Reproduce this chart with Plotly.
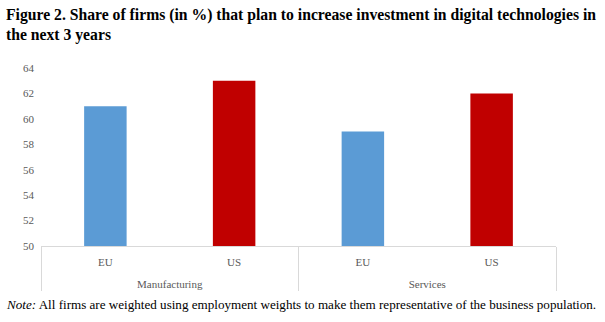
import plotly.graph_objects as go

# Survey shares by sector and region
sectors = ["Manufacturing", "Manufacturing", "Services", "Services"]
regions = ["EU", "US", "EU", "US"]
shares = [61, 63, 59, 62]
bar_colors = ["#5b9bd5", "#c00000", "#5b9bd5", "#c00000"]
y_ticks = [50, 52, 54, 56, 58, 60, 62, 64]

title_text = ("<b>Figure 2. Share of firms (in %) that plan to increase investment in digital technologies in"
              "<br>the next 3 years</b>")
note_text = ("<i>Note:</i> All firms are weighted using employment weights to make them "
             "representative of the business population.")

serif = "Liberation Serif, Times New Roman, serif"

# inner labels get a trailing blank line so the sector row sits lower
region_labels = [r + "<br> " for r in regions]

fig = go.Figure(
    go.Bar(
        x=[sectors, region_labels],
        y=shares,
        marker=dict(color=bar_colors, line=dict(width=0)),
        width=0.33,
        showlegend=False,
    )
)

fig.update_layout(
    width=605,
    height=322,
    margin=dict(l=41, r=49, t=68, b=76),
    paper_bgcolor="white",
    plot_bgcolor="white",
    font=dict(family=serif, color="#595959", size=11),
)

fig.update_xaxes(
    type="multicategory",
    showline=True,
    linecolor="#d9d9d9",
    linewidth=1,
    showdividers=True,
    dividercolor="#d9d9d9",
    dividerwidth=1,
    ticks="",
    ticklabelstandoff=6,
    tickfont=dict(family=serif, size=11, color="#595959"),
    showgrid=False,
)

fig.update_yaxes(
    range=[50, 64],
    tickvals=y_ticks,
    showgrid=False,
    showline=False,
    zeroline=False,
    ticks="",
    ticklabelstandoff=6,
    tickfont=dict(family=serif, size=11, color="#595959"),
)

fig.add_annotation(
    text=title_text, xref="paper", yref="paper", x=0, y=1, xanchor="left", yanchor="top",
    xshift=-37, yshift=64, align="left", showarrow=False,
    font=dict(family=serif, size=15.7, color="#000000"),
)

fig.add_annotation(
    text=note_text, xref="paper", yref="paper", x=0, y=0, xanchor="left", yanchor="middle",
    xshift=-37, yshift=-58, align="left", showarrow=False,
    font=dict(family=serif, size=13.1, color="#000000"),
)

fig.write_html("out.html")
